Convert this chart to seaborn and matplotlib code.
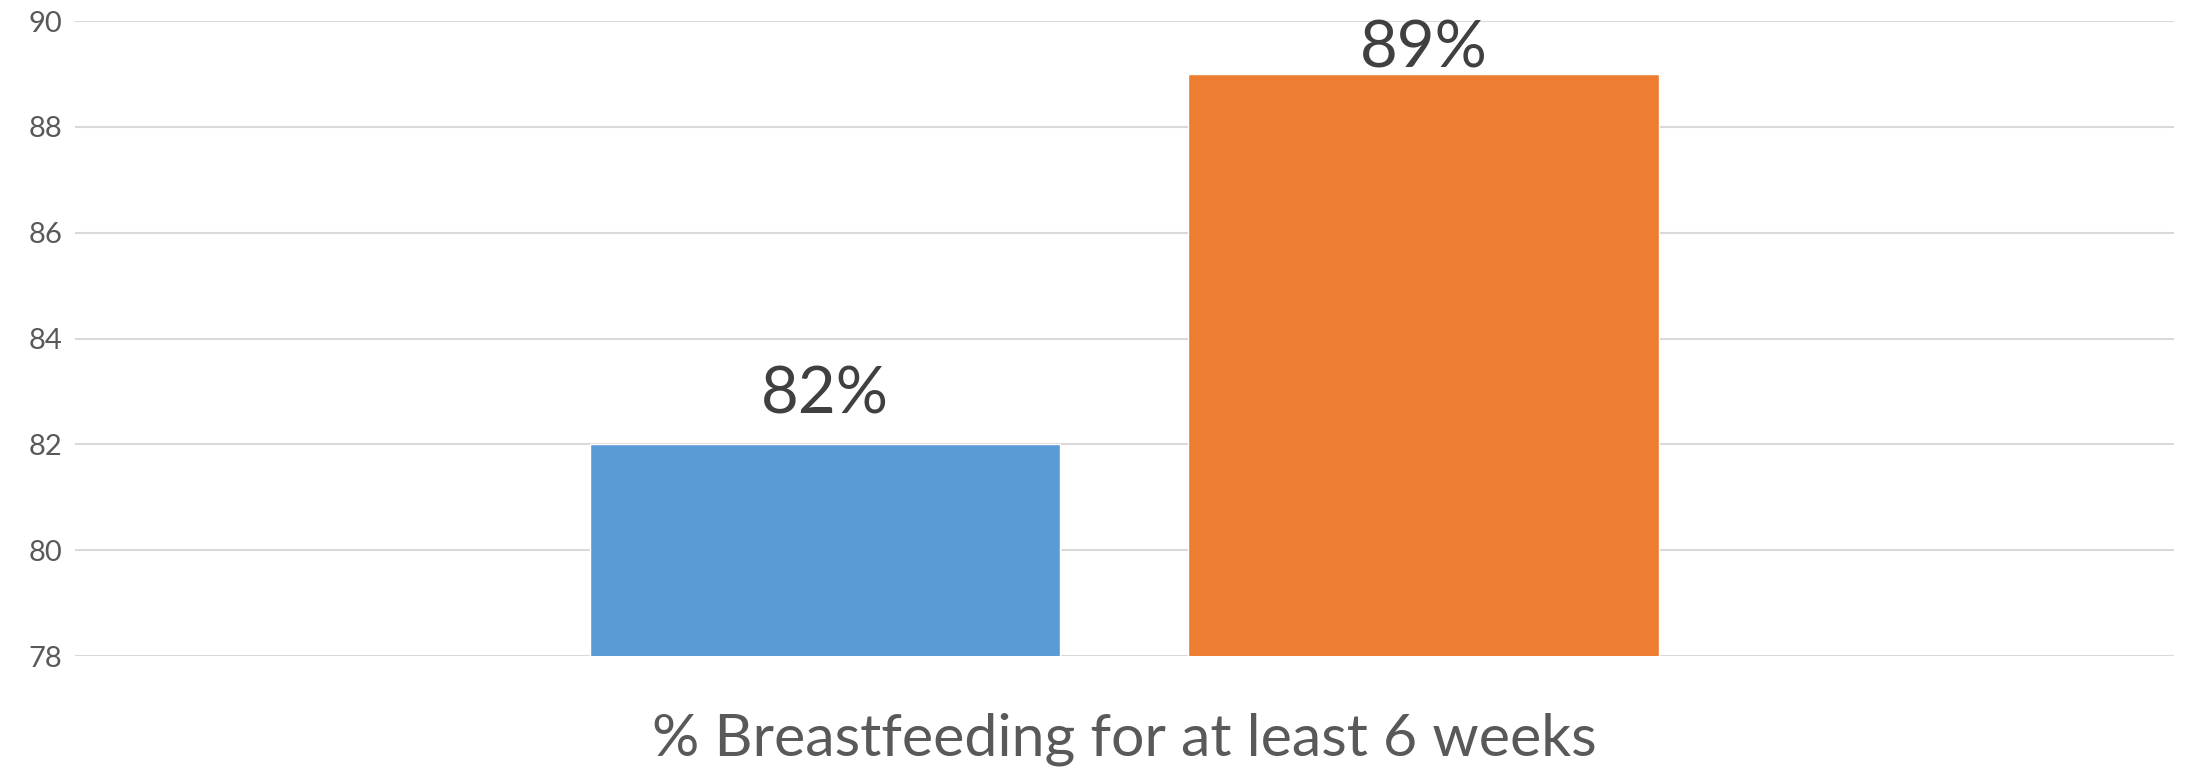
import matplotlib
matplotlib.use("Agg")
import matplotlib.pyplot as plt
import pandas as pd
import seaborn as sns

# 数据
category = ["% Breastfeeding for at least 6 weeks"]
series = ["Series 1", "Series 2"]
values = [82, 89]
labels = ["82%", "89%"]
colors = ["#5B9BD5", "#ED7D31"]

data = pd.DataFrame({"category": category * len(series), "series": series, "value": values})

sns.set_style("white")
plt.rcParams["font.family"] = ["Lato", "DejaVu Sans"]

fig = plt.figure(figsize=(21.86, 7.7), dpi=100)
ax = fig.add_axes([0.0343, 0.148, 0.9602, 0.8247])

sns.barplot(
    data=data, x="category", y="value", hue="series",
    palette=colors, width=0.57, gap=0.214, saturation=1,
    legend=False, ax=ax, zorder=3
)

ax.set_ylim(78, 90)
ax.set_xlim(-0.5, 0.5)
ax.set_yticks(range(78, 91, 2))
ax.grid(axis="y", color="#D9D9D9", linewidth=1.5, zorder=0)
ax.grid(axis="x", visible=False)
for s in ax.spines.values():
    s.set_visible(False)
ax.tick_params(axis="y", length=0, pad=9, labelsize=21, labelcolor="#595959")
ax.tick_params(axis="x", length=0, pad=41, labelsize=42.5, labelcolor="#595959")
ax.set_xlabel("")
ax.set_ylabel("")

# 数据标签
pads = [14, -3]
for cont, lab, p in zip(ax.containers, labels, pads):
    ax.bar_label(cont, labels=[lab], padding=p, fontsize=47, color="#404040")

fig.savefig("out.png", dpi=100)
